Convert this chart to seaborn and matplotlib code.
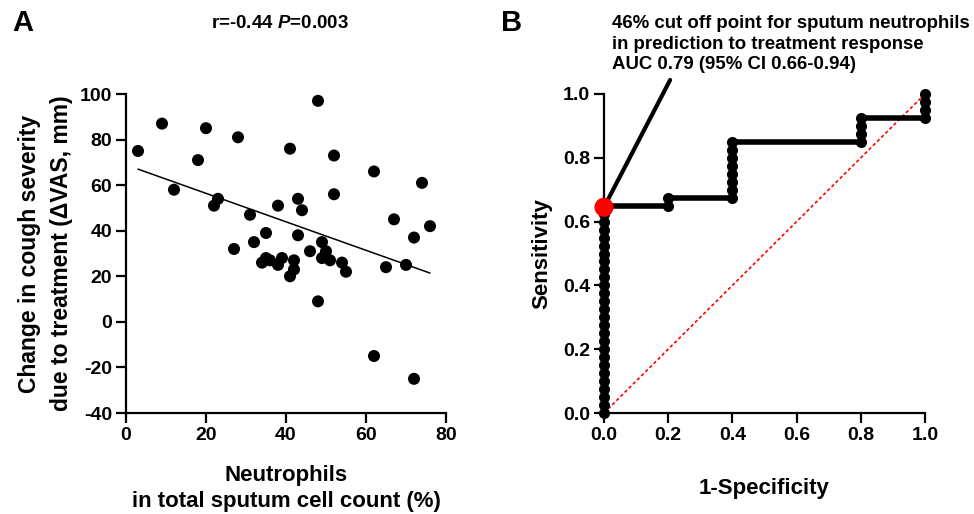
import matplotlib
matplotlib.use("Agg")
import matplotlib.pyplot as plt
import seaborn as sns
import pandas as pd

# ---- Panel A data ----
neutrophils = [3, 9, 20, 28, 18, 48, 41, 52, 62, 74, 12, 23, 22, 43, 52, 38, 44, 31, 67, 76,
               35, 43, 72, 32, 49, 27, 46, 50, 49, 51, 54, 55, 35, 34, 36, 39, 38, 42, 42, 41,
               65, 70, 48, 62, 72]
delta_vas = [75, 87, 85, 81, 71, 97, 76, 73, 66, 61, 58, 54, 51, 54, 56, 51, 49, 47, 45, 42,
             39, 38, 37, 35, 35, 32, 31, 31, 28, 27, 26, 22, 28, 26, 27, 28, 25, 27, 23, 20,
             24, 25, 9, -15, -25]
a_xticks = [0, 20, 40, 60, 80]
a_yticks = [-40, -20, 0, 20, 40, 60, 80, 100]

# ---- Panel B data (ROC) ----
roc_fpr = [0.0, 0.0, 0.0, 0.0, 0.0, 0.0, 0.0, 0.0, 0.0, 0.0, 0.0, 0.0, 0.0, 0.0,
           0.0, 0.0, 0.0, 0.0, 0.0, 0.0, 0.0, 0.0, 0.0, 0.0, 0.0, 0.0, 0.0,
           0.2, 0.2,
           0.4, 0.4, 0.4, 0.4, 0.4, 0.4, 0.4, 0.4,
           0.8, 0.8, 0.8, 0.8,
           1.0, 1.0, 1.0, 1.0]
roc_tpr = [0.0, 0.025, 0.05, 0.075, 0.1, 0.125, 0.15, 0.175, 0.2, 0.225, 0.25, 0.275, 0.3, 0.325,
           0.35, 0.375, 0.4, 0.425, 0.45, 0.475, 0.5, 0.525, 0.55, 0.575, 0.6, 0.625, 0.65,
           0.65, 0.675,
           0.675, 0.7, 0.725, 0.75, 0.775, 0.8, 0.825, 0.85,
           0.85, 0.875, 0.9, 0.925,
           0.925, 0.95, 0.975, 1.0]
cutoff_fpr = [0.0]
cutoff_tpr = [0.645]
b_ticks = [0.0, 0.2, 0.4, 0.6, 0.8, 1.0]

sns.set_style("ticks")
plt.rcParams['font.family'] = ['Liberation Sans', 'DejaVu Sans']
plt.rcParams['font.weight'] = 'bold'
plt.rcParams['axes.labelweight'] = 'bold'
plt.rcParams['text.color'] = 'black'
plt.rcParams['axes.labelcolor'] = 'black'
plt.rcParams['xtick.color'] = 'black'
plt.rcParams['ytick.color'] = 'black'
plt.rcParams['axes.edgecolor'] = 'black'
plt.rcParams['axes.unicode_minus'] = False
plt.rcParams['mathtext.fontset'] = 'custom'
plt.rcParams['mathtext.bfit'] = 'Liberation Sans:bold:italic'
plt.rcParams['mathtext.bf'] = 'Liberation Sans:bold'
plt.rcParams['mathtext.rm'] = 'Liberation Sans:bold'

fig = plt.figure(figsize=(9.74, 5.14), dpi=100)
axA = fig.add_axes([126/974, 1-413/514, 320/974, 319/514])
axB = fig.add_axes([604/974, 1-413/514, 321/974, 319/514])

dfA = pd.DataFrame({"x": neutrophils, "y": delta_vas})
sns.regplot(data=dfA, x="x", y="y", ax=axA, scatter=False, ci=None,
            line_kws=dict(color="black", lw=1.1))
sns.scatterplot(data=dfA, x="x", y="y", ax=axA, color="black", s=75,
                edgecolor="none", zorder=3)
axA.set_xlim(0, 80)
axA.set_ylim(-40, 100)
axA.set_xticks(a_xticks)
axA.set_yticks(a_yticks)
axA.set_xlabel("Neutrophils\nin total sputum cell count (%)", fontsize=16, labelpad=15,
               fontweight='bold', linespacing=1.35)
axA.set_ylabel("Change in cough severity\ndue to treatment (\u0394VAS, mm)", fontsize=16.5,
               labelpad=5, fontweight='bold', linespacing=1.5)

dfB = pd.DataFrame({"fpr": roc_fpr, "tpr": roc_tpr})
axB.plot([0, 1], [0, 1], color="red", lw=1.2, ls=(0, (2, 1.5)), zorder=1)
sns.lineplot(data=dfB, x="fpr", y="tpr", ax=axB, estimator=None, sort=False,
             color="black", lw=4, marker="o", markersize=8, markeredgewidth=0,
             clip_on=False, zorder=3)
sns.scatterplot(x=cutoff_fpr, y=cutoff_tpr, ax=axB, color="red", s=190,
                edgecolor="none", zorder=5, clip_on=False)
axB.set_xlim(0, 1)
axB.set_ylim(0, 1)
axB.set_xticks(b_ticks)
axB.set_yticks(b_ticks)
axB.set_xticklabels([f"{t:.1f}" for t in b_ticks])
axB.set_yticklabels([f"{t:.1f}" for t in b_ticks])
axB.set_xlabel("1-Specificity", fontsize=16, labelpad=24.5, fontweight='bold')
axB.set_ylabel("Sensitivity", fontsize=16, labelpad=8, fontweight='bold')
axB.annotate("", xy=(cutoff_fpr[0], cutoff_tpr[0]), xytext=(0.206, 1.044),
             xycoords="data", textcoords="data", annotation_clip=False,
             arrowprops=dict(arrowstyle="-", color="black", lw=3, shrinkA=0, shrinkB=0))

for ax in (axA, axB):
    sns.despine(ax=ax)
    for s in ("left", "bottom"):
        ax.spines[s].set_linewidth(1.6)
    ax.tick_params(width=1.6, length=7, labelsize=14, pad=3, direction="out")
    for lab in ax.get_xticklabels() + ax.get_yticklabels():
        lab.set_fontweight("bold")

fig.text(12/974, 1-23/514, "A", fontsize=21, fontweight="bold", va="center", ha="left")
fig.text(501/974, 1-23/514, "B", fontsize=21, fontweight="bold", va="center", ha="left")
fig.text(280/974, 1-23/514, r"r=-0.44 $\mathbfit{P}$=0.003", fontsize=13.5,
         fontweight="bold", va="center", ha="center")
fig.text(612/974, 1-15/514,
         "46% cut off point for sputum neutrophils\nin prediction to treatment response\nAUC 0.79 (95% CI 0.66-0.94)",
         fontsize=13.4, fontweight="bold", va="top", ha="left", linespacing=1.27)

fig.savefig("out.png", dpi=100)
